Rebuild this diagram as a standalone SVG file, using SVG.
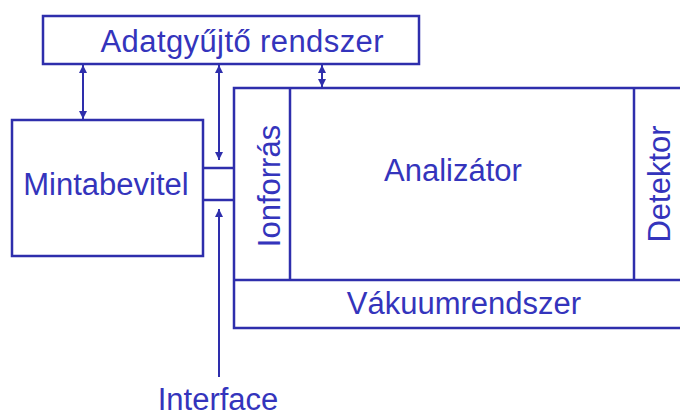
<svg xmlns="http://www.w3.org/2000/svg" width="680" height="417" viewBox="0 0 680 417">
<style>
.box{fill:none;stroke:#2e2eac;stroke-width:2.5}
.ln{fill:none;stroke:#2e2eac;stroke-width:2.5}
.ar{fill:none;stroke:#2e2eac;stroke-width:2}
text{font-family:"Liberation Sans",Arial,sans-serif;font-size:31px;fill:#3434bc}
</style>
<defs>
<marker id="ah" viewBox="0 0 10 10" refX="10" refY="5" markerWidth="8" markerHeight="9" markerUnits="userSpaceOnUse" orient="auto-start-reverse">
<path d="M0,0 L10,5 L0,10 z" fill="#2e2eac"/>
</marker>
</defs>
<rect width="680" height="417" fill="#ffffff"/>
<g id="adatgyujto">
<rect class="box" x="43" y="16" width="376" height="48"/>
<text x="242" y="52" text-anchor="middle" textLength="283">Adatgyűjtő rendszer</text>
</g>
<g id="mintabevitel">
<rect class="box" x="12" y="120" width="191" height="136"/>
<text x="106" y="195" text-anchor="middle">Mintabevitel</text>
</g>
<g id="interface-box">
<line class="ln" x1="203" y1="168" x2="234" y2="168"/>
<line class="ln" x1="203" y1="200" x2="234" y2="200"/>
</g>
<g id="main">
<polyline class="ln" points="680,88 234,88 234,328 680,328"/>
</g>
<g id="ionforras">
<line class="ln" x1="290" y1="88" x2="290" y2="280"/>
<text transform="translate(280,186) rotate(-90)" text-anchor="middle">Ionforrás</text>
</g>
<g id="analizator">
<text x="453" y="181" text-anchor="middle">Analizátor</text>
</g>
<g id="detektor">
<line class="ln" x1="634" y1="88" x2="634" y2="280"/>
<text transform="translate(670,184) rotate(-90)" text-anchor="middle">Detektor</text>
</g>
<g id="vakuum">
<line class="ln" x1="234" y1="280" x2="680" y2="280"/>
<text x="464" y="314" text-anchor="middle">Vákuumrendszer</text>
</g>
<g id="interface-label">
<text x="218" y="410" text-anchor="middle">Interface</text>
</g>
<g id="connectors">
<line class="ar" x1="83" y1="65" x2="83" y2="119" marker-start="url(#ah)" marker-end="url(#ah)"/>
<line class="ar" x1="219" y1="65" x2="219" y2="160" marker-start="url(#ah)" marker-end="url(#ah)"/>
<line class="ar" x1="322" y1="65" x2="322" y2="87" marker-start="url(#ah)" marker-end="url(#ah)"/>
<line class="ar" x1="219" y1="377" x2="219" y2="209" marker-end="url(#ah)"/>
</g>
</svg>
